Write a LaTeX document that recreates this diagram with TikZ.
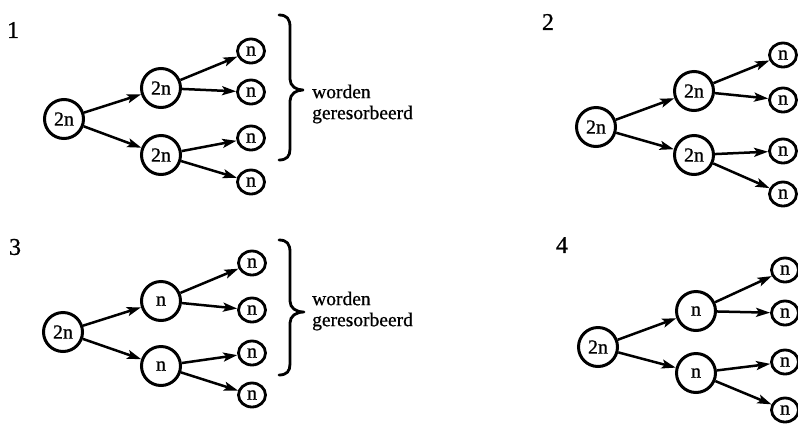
\documentclass[tikz,border=0pt]{standalone}
\usepackage{fontspec}
\setmainfont{Liberation Serif}
\newfontfamily\inkfont{Liberation Serif}[FakeBold=0.8]
\usetikzlibrary{arrows.meta,shapes.geometric}

\tikzset{
  bignode/.style={circle, draw, line width=3pt, minimum size=39pt, inner sep=0pt,
    font=\inkfont\fontsize{20}{20}\selectfont},
  leafnode/.style={ellipse, draw, line width=2.8pt, minimum width=27pt, minimum height=24pt,
    inner sep=0pt, font=\inkfont\fontsize{20}{20}\selectfont},
  arr/.style={line width=2.5pt, -{Stealth[length=14pt, width=9pt, inset=3pt]}},
  bracestyle/.style={line width=2.8pt, line cap=round, line join=round},
  panellabel/.style={font=\inkfont\fontsize{24}{24}\selectfont, inner sep=0pt},
  note/.style={font=\inkfont\fontsize{19.5}{21}\selectfont, align=left, anchor=west, inner sep=0pt}
}

\begin{document}
\begin{tikzpicture}[x=1pt, y=-1pt]
\useasboundingbox (0,0) rectangle (798,424);
\clip (0,0) rectangle (798,424);

% ---------- panel 1 ----------
\node[panellabel] (lab1) at (13,30) {1};
\node[bignode] (r1) at (64,119) {2n};
\node[bignode] (a1) at (161,88) {2n};
\node[bignode] (b1) at (161,155) {2n};
\node[leafnode] (a1u) at (251,51) {n};
\node[leafnode] (a1d) at (251,92) {n};
\node[leafnode] (b1u) at (251,138) {n};
\node[leafnode] (b1d) at (251,182) {n};
\draw[arr] (r1) -- (a1);
\draw[arr] (r1) -- (b1);
\draw[arr] (a1) -- (a1u);
\draw[arr] (a1) -- (a1d);
\draw[arr] (b1) -- (b1u);
\draw[arr] (b1) -- (b1d);
\draw[bracestyle] (279,15) .. controls (287,15) and (290,19) .. (290,27)
  -- (290,79) .. controls (290,86) and (296,90) .. (303,90)
  .. controls (296,90) and (290,94) .. (290,101)
  -- (290,149) .. controls (290,156) and (287,160) .. (279,160);
\node[note] (t1) at (312,104) {worden\\geresorbeerd};

% ---------- panel 2 ----------
\node[panellabel] (lab2) at (548,22) {2};
\node[bignode] (r2) at (596,127) {2n};
\node[bignode] (a2) at (694,91) {2n};
\node[bignode] (b2) at (694,155) {2n};
\node[leafnode] (a2u) at (783,55) {n};
\node[leafnode] (a2d) at (783,100) {n};
\node[leafnode] (b2u) at (783,151) {n};
\node[leafnode] (b2d) at (783,194) {n};
\draw[arr] (r2) -- (a2);
\draw[arr] (r2) -- (b2);
\draw[arr] (a2) -- (a2u);
\draw[arr] (a2) -- (a2d);
\draw[arr] (b2) -- (b2u);
\draw[arr] (b2) -- (b2d);

% ---------- panel 3 ----------
\node[panellabel] (lab3) at (15,247) {3};
\node[bignode] (r3) at (63,332) {2n};
\node[bignode] (a3) at (161,301) {n};
\node[bignode] (b3) at (161,366) {n};
\node[leafnode] (a3u) at (252,263) {n};
\node[leafnode] (a3d) at (252,310) {n};
\node[leafnode] (b3u) at (252,353) {n};
\node[leafnode] (b3d) at (252,395) {n};
\draw[arr] (r3) -- (a3);
\draw[arr] (r3) -- (b3);
\draw[arr] (a3) -- (a3u);
\draw[arr] (a3) -- (a3d);
\draw[arr] (b3) -- (b3u);
\draw[arr] (b3) -- (b3d);
\draw[bracestyle] (279,240) .. controls (287,240) and (290,244) .. (290,252)
  -- (290,301) .. controls (290,308) and (296,312) .. (304,312)
  .. controls (296,312) and (290,316) .. (290,323)
  -- (290,364) .. controls (290,371) and (287,375) .. (279,375);
\node[note] (t3) at (312,311) {worden\\geresorbeerd};

% ---------- panel 4 ----------
\node[panellabel] (lab4) at (562,245) {4};
\node[bignode] (r4) at (598,347) {2n};
\node[bignode] (a4) at (696,311) {n};
\node[bignode] (b4) at (696,373) {n};
\node[leafnode] (a4u) at (785,270) {n};
\node[leafnode] (a4d) at (785,313) {n};
\node[leafnode] (b4u) at (785,362) {n};
\node[leafnode] (b4d) at (785,410) {n};
\draw[arr] (r4) -- (a4);
\draw[arr] (r4) -- (b4);
\draw[arr] (a4) -- (a4u);
\draw[arr] (a4) -- (a4d);
\draw[arr] (b4) -- (b4u);
\draw[arr] (b4) -- (b4d);
\end{tikzpicture}
\end{document}
